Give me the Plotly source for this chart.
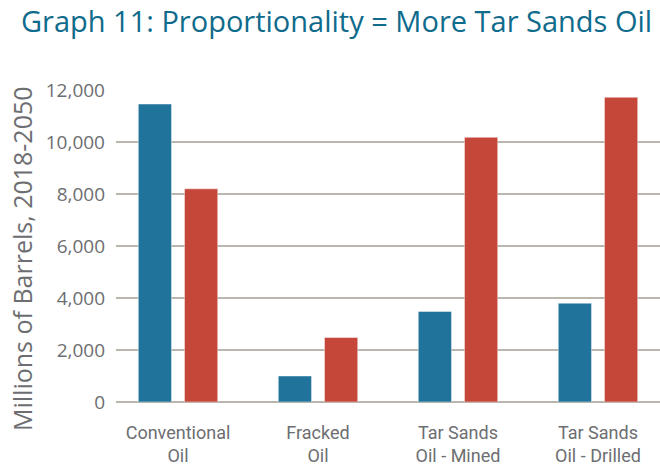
import plotly.graph_objects as go

categories = ["Conventional<br>Oil", "Fracked<br>Oil", "Tar Sands<br>Oil - Mined", "Tar Sands<br>Oil - Drilled"]
series_a = [11460, 1000, 3480, 3800]
series_b = [8200, 2480, 10180, 11720]
y_ticks = [0, 2000, 4000, 6000, 8000, 10000, 12000]

BLUE = "#20739a"
RED = "#c4473a"
GRAY_TEXT = "#6d6e71"

fig = go.Figure()
fig.add_trace(go.Bar(x=categories, y=series_a, marker=dict(color=BLUE, line=dict(color="rgba(255,255,255,0.45)", width=1))))
fig.add_trace(go.Bar(x=categories, y=series_b, marker=dict(color=RED, line=dict(color="rgba(255,255,255,0.45)", width=1))))

fig.update_layout(
    width=660,
    height=467,
    margin=dict(l=116, r=0, t=90, b=65),
    plot_bgcolor="white",
    paper_bgcolor="white",
    showlegend=False,
    barmode="group",
    bargap=0.34,
    bargroupgap=0.28,
    font=dict(family="Open Sans", color=GRAY_TEXT),
    xaxis=dict(
        range=[-0.443, 3.443],
        showgrid=False,
        showline=False,
        ticks="",
        ticklabelstandoff=18,
        tickfont=dict(family="Roboto", size=18, color=GRAY_TEXT),
    ),
    yaxis=dict(
        range=[0, 12000],
        tickvals=y_ticks,
        tickformat=",",
        showgrid=True,
        gridcolor="#bab5ad",
        gridwidth=1.5,
        zeroline=True,
        zerolinecolor="#bab5ad",
        zerolinewidth=1.5,
        ticks="",
        ticklabelstandoff=10,
        tickfont=dict(family="Open Sans", size=19, color=GRAY_TEXT),
    ),
    annotations=[
        dict(
            text="Graph 11: Proportionality = More Tar Sands Oil",
            xref="paper", yref="paper", x=-0.1776, y=1.223,
            xanchor="left", yanchor="middle", showarrow=False,
            font=dict(family="Open Sans", size=29, color="#0f6b8c"),
        ),
        dict(
            text="Millions of Barrels, 2018-2050",
            xref="paper", yref="paper", x=-0.1728, y=0.4615,
            xanchor="center", yanchor="middle", textangle=-90, showarrow=False,
            font=dict(family="Open Sans", size=25, color=GRAY_TEXT),
        ),
    ],
)

# drop the browser's default 8px body margin so the figure sits at the page corner
fig.write_html(
    "out.html",
    config={"displayModeBar": False},
    post_script="document.body.style.margin='0';",
)
